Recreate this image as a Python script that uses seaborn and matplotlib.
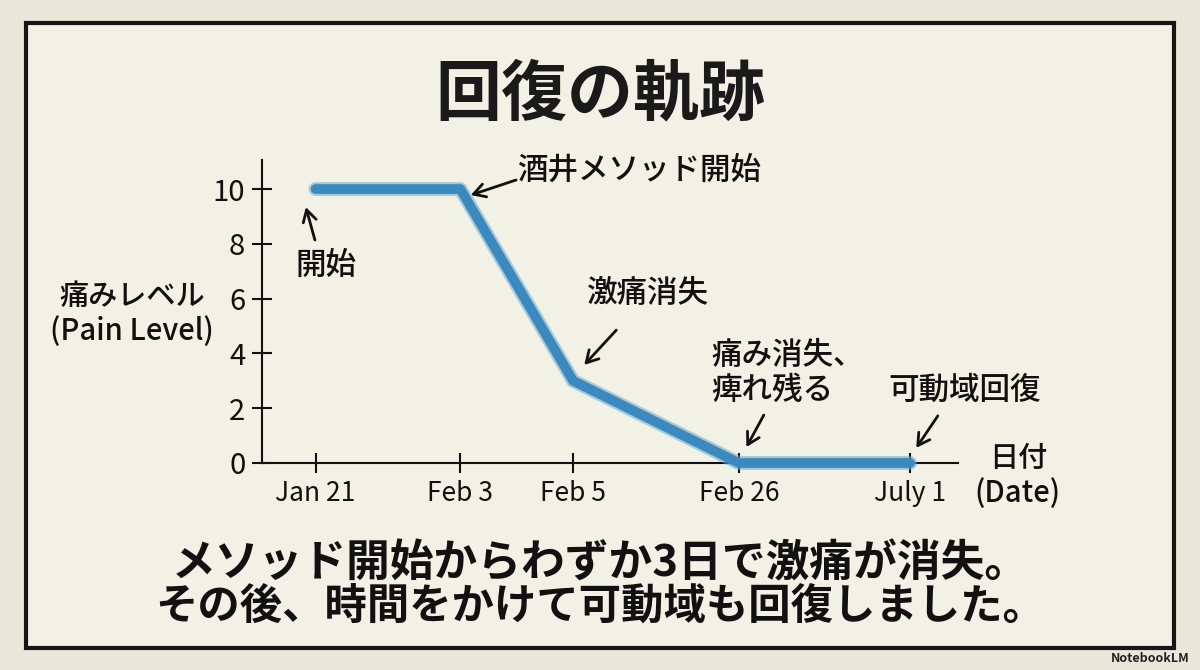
import matplotlib
matplotlib.use("Agg")
import matplotlib.pyplot as plt
import matplotlib.patches as mpatches
import seaborn as sns
import pandas as pd

# ---- data ----
dates = ["Jan 21", "Feb 3", "Feb 5", "Feb 26", "July 1"]
x_positions = [0.77, 2.85, 4.47, 6.85, 9.31]   # axis positions of the date ticks
pain_level = [10, 10, 3, 0, 0]
y_ticks = [0, 2, 4, 6, 8, 10]

title = "回復の軌跡"
ylabel = "痛みレベル\n(Pain Level)"
xlabel = "日付\n(Date)"
notes = ["開始", "酒井メソッド開始", "激痛消失", "痛み消失、\n痺れ残る", "可動域回復"]
caption = ["メソッド開始からわずか3日で激痛が消失。", "その後、時間をかけて可動域も回復しました。"]

df = pd.DataFrame({"pos": x_positions, "pain": pain_level, "date": dates})

sns.set_theme(style="white")
plt.rcParams["font.family"] = ["Noto Sans CJK JP", "DejaVu Sans"]

fig = plt.figure(figsize=(12, 6.7), dpi=100)
fig.patch.set_facecolor("#e8e8da")

# inner panel with black frame
panel = mpatches.Rectangle((26 / 1200, 1 - 648 / 670), 1148 / 1200, 625 / 670,
                           transform=fig.transFigure, facecolor="#f1f1e5",
                           edgecolor="#161616", lw=3, zorder=-10)
fig.patches.append(panel)

ax = fig.add_axes([262 / 1200, 1 - 463 / 670, (958 - 262) / 1200, (463 - 160) / 670])
ax.set_facecolor("none")
ax.set_zorder(5)

sns.lineplot(data=df, x="pos", y="pain", ax=ax, color="#6aa7d0", lw=10,
             alpha=0.55, solid_capstyle="round", clip_on=False, zorder=3)
sns.lineplot(data=df, x="pos", y="pain", ax=ax, color="#3a89bf", lw=7,
             solid_capstyle="round", clip_on=False, zorder=4)

ax.set_xlim(0, 10)
ax.set_ylim(0, 11.06)
ax.set_xticks(x_positions)
ax.set_xticklabels(dates)
ax.set_yticks(y_ticks)
ax.set_yticklabels([str(v) for v in y_ticks])
ax.tick_params(axis="both", direction="inout", length=14, width=1.5,
               colors="#111111")
ax.tick_params(axis="y", left=True, pad=5, labelsize=21)
ax.tick_params(axis="x", bottom=True, pad=5, labelsize=19)
for s in ["top", "right"]:
    ax.spines[s].set_visible(False)
for s in ["left", "bottom"]:
    ax.spines[s].set_color("#111111")
    ax.spines[s].set_linewidth(1.5)
ax.set_xlabel("")
ax.set_ylabel("")

# title, axis labels, captions
fig.text(0.5, 1 - 95 / 670, title, ha="center", va="center", fontsize=47.5,
         fontweight="bold", color="#1a1a1a")
fig.text(132 / 1200, 1 - 314 / 670, ylabel, ha="center", va="center",
         fontsize=21, fontweight="medium", color="#111111", linespacing=1.15)
ax.text(10.86, -0.47, xlabel, ha="center", va="center", fontsize=21,
        fontweight="medium", color="#111111", linespacing=1.15, clip_on=False)
fig.text(0.5, 1 - 563 / 670, caption[0], ha="center", va="center",
         fontsize=31.5, fontweight="bold", color="#111111")
fig.text(0.5, 1 - 607 / 670, caption[1], ha="center", va="center",
         fontsize=30.5, fontweight="bold", color="#111111")
fig.text(1190 / 1200, 1 - 658 / 670, "NotebookLM", ha="right", va="center",
         fontsize=9, fontweight="bold", color="#222222")

# annotations: (text, text pos, ha, arrow tail, arrow head)
ann = [
    (notes[0], (0.92, 7.23), "center", (0.76, 8.14), (0.63, 9.34)),
    (notes[1], (3.67, 10.69), "left", (3.65, 10.33), (3.0, 9.78)),
    (notes[2], (5.54, 6.20), "center", (5.09, 4.85), (4.63, 3.58)),
    (notes[3], (6.46, 3.28), "left", (7.21, 1.75), (6.96, 0.58)),
    (notes[4], (9.0, 2.66), "left", (9.71, 1.72), (9.40, 0.55)),
]
for txt, pos, ha, tail, head in ann:
    ax.text(pos[0], pos[1], txt, ha=ha, va="center", fontsize=22,
            fontweight="medium", color="#111111", linespacing=1.15, clip_on=False)
    ax.annotate("", xy=head, xytext=tail,
                arrowprops=dict(arrowstyle="->,head_length=0.7,head_width=0.4",
                                lw=2, color="#111111", shrinkA=0, shrinkB=0),
                annotation_clip=False)

fig.savefig("out.png", dpi=100, facecolor=fig.get_facecolor())
